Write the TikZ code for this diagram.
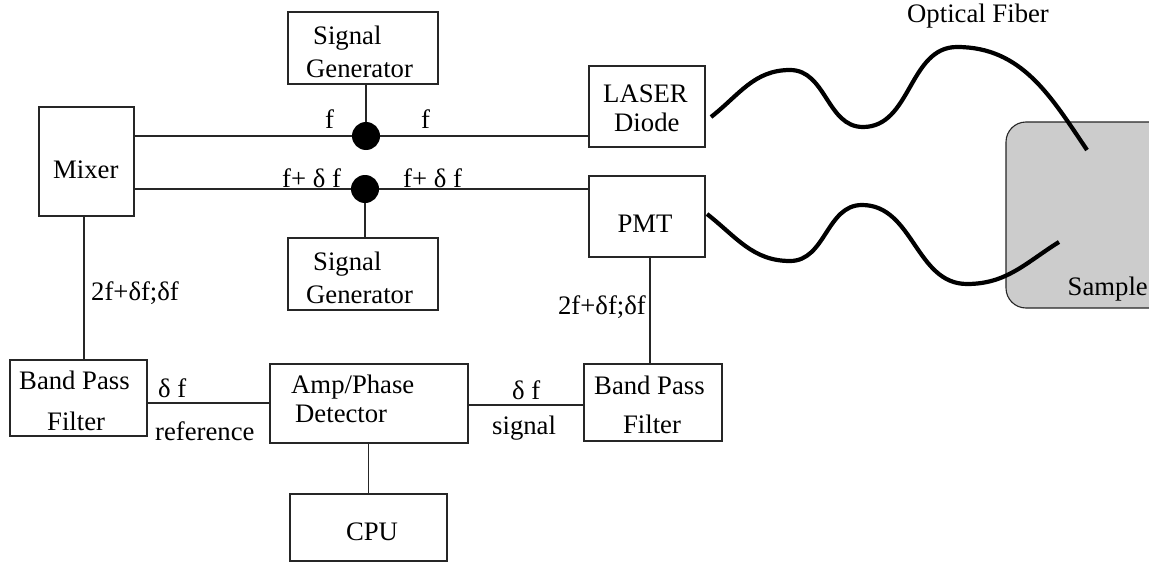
\documentclass[tikz,border=0pt]{standalone}
\usepackage{fontspec}
\setmainfont{Liberation Serif}
\begin{document}
\begin{tikzpicture}[x=1pt,y=-1pt,
  box/.style={draw=black!85, line width=1.1pt, inner sep=0pt},
  ln/.style={draw=black!85, line width=1.1pt},
  fiber/.style={draw=black, line width=4.2pt},
  dot/.style={circle, fill=black, inner sep=0pt, minimum size=28pt},
  txt/.style={font=\fontsize{26.7}{32}\selectfont, inner sep=0pt, anchor=base west},
  ctxt/.style={font=\fontsize{26.7}{32}\selectfont, inner sep=0pt, anchor=base},
  rtxt/.style={font=\fontsize{26.7}{32}\selectfont, inner sep=0pt, anchor=base east}]
\clip (0,0) rectangle (1149,562);
\fill[white] (0,0) rectangle (1149,562);
% sample
\draw[fill=black!20, draw=black!85, line width=1.1pt, rounded corners=20pt] (1006,122) rectangle (1190,308);
% boxes
\node[box, minimum width=150pt, minimum height=72pt] (sgt) at (363,48) {};
\node[box, minimum width=150pt, minimum height=72pt] (sgb) at (363,274) {};
\node[box, minimum width=95pt, minimum height=109pt] (mixer) at (86.5,161.5) {};
\node[box, minimum width=116pt, minimum height=81pt] (laser) at (647,106.5) {};
\node[box, minimum width=116pt, minimum height=81pt] (pmt) at (647,216.5) {};
\node[box, minimum width=137pt, minimum height=76pt] (bpfa) at (78.5,398) {};
\node[box, minimum width=198pt, minimum height=79pt] (apd) at (369,403.5) {};
\node[box, minimum width=138pt, minimum height=77pt] (bpfb) at (653,402.5) {};
\node[box, minimum width=157pt, minimum height=67pt] (cpu) at (368.5,527.5) {};
% junction dots
\coordinate (j1) at (366,136);
\coordinate (j2) at (365,189);
% connectors
\draw[ln] (mixer.east |- j1) -- (laser.west |- j1);
\draw[ln] (mixer.east |- j2) -- (pmt.west |- j2);
\draw[ln] (sgt.south -| j1) -- (j1);
\draw[ln] (j2) -- (sgb.north -| j2);
\coordinate (mx) at (84,216);
\draw[ln] (mixer.south -| mx) -- (bpfa.north -| mx);
\coordinate (py) at (650,257);
\draw[ln] (pmt.south -| py) -- (bpfb.north -| py);
\coordinate (ly) at (200,403);
\draw[ln] (bpfa.east |- ly) -- (apd.west |- ly);
\coordinate (ry) at (500,405);
\draw[ln] (apd.east |- ry) -- (bpfb.west |- ry);
\draw[ln] (apd.south -| cpu.north) -- (cpu.north);
\node[dot] (d1) at (j1) {};
\node[dot] (d2) at (j2) {};
% fibers
\coordinate (fa0) at (711,117);
\coordinate (fa4) at (1087,150);
\draw[fiber] (fa0) to[out=38,in=180] (790,70) to[out=0,in=180] (863,127) to[out=0,in=180] (957,47) to[out=0,in=124] (fa4);
\coordinate (fb0) at (707,214);
\coordinate (fb4) at (1059,242);
\draw[fiber] (fb0) to[out=-38,in=180] (790,261) to[out=0,in=180] (862,205) to[out=0,in=180] (967,284) to[out=0,in=212] (fb4);
% texts in boxes
\node[txt] (t1) at (313,44) {Signal};
\node[txt] (t2) at (306,77) {Generator};
\node[txt] (t3) at (313,270) {Signal};
\node[txt] (t4) at (306,303) {Generator};
\node[txt] (t5) at (53,178) {Mixer};
\node[txt] (t6) at (603,102) {LASER};
\node[txt] (t7) at (614,131) {Diode};
\node[ctxt] (t8) at (645,232) {PMT};
\node[txt] (t9) at (19,389) {Band Pass};
\node[txt] (t10) at (47,430) {Filter};
\node[txt] (t11) at (291,393) {Amp/Phase};
\node[txt] (t12) at (295,422) {Detector};
\node[txt] (t13) at (594,394) {Band Pass};
\node[ctxt] (t14) at (652,433) {Filter};
\node[ctxt] (t15) at (372,540) {CPU};
% connector labels
\node[txt] (l1) at (325,128) {f};
\node[txt] (l2) at (421,128) {f};
\node[txt] (l3) at (282,187) {f+ δ f};
\node[txt] (l4) at (403,187) {f+ δ f};
\node[txt] (l5) at (91,300) {2f+δf;δf};
\node[rtxt] (l6) at (646,314) {2f+δf;δf};
\node[txt] (l7) at (158,397) {δ f};
\node[txt] (l8) at (155,440) {reference};
\node[txt] (l9) at (512,399) {δ f};
\node[txt] (l10) at (492,434) {signal};
\node[txt] (l11) at (907,23) {Optical Fiber};
\node[rtxt] (l12) at (1148,295) {Sample};
\end{tikzpicture}
\end{document}
